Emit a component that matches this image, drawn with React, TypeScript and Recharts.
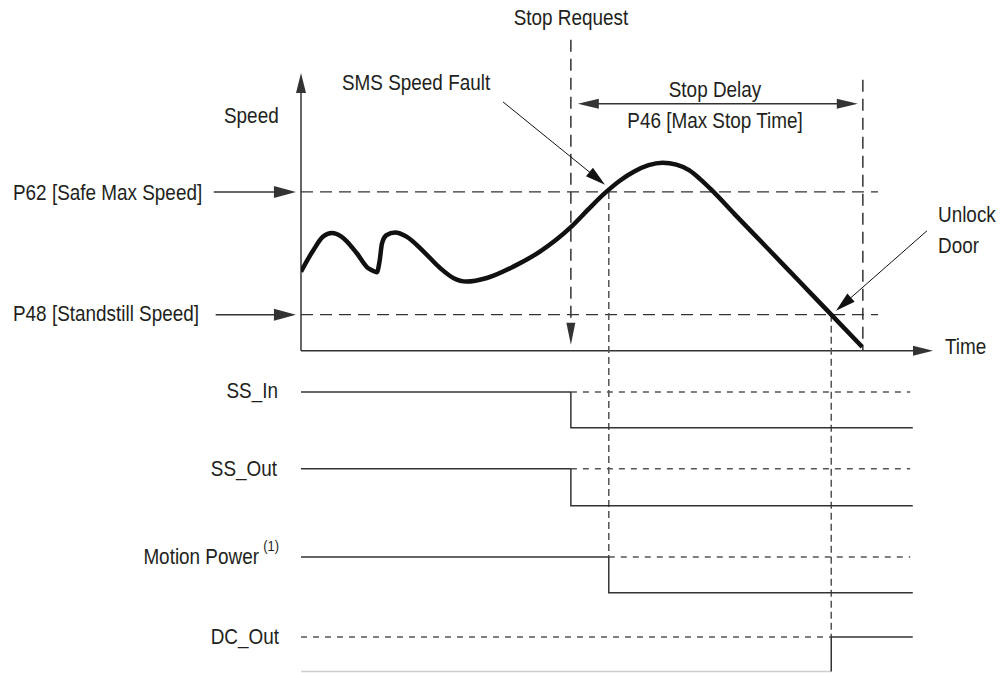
import { ComposedChart, Line, XAxis, YAxis, ReferenceLine } from "recharts";

// speed profile (time units 0..100 along the time axis, speed units 0..100 up the speed axis)
const speedTime = [
  0, 2, 3.5, 4.9, 6.4, 8.8, 10.6, 11.3, 12.0, 12.45, 12.8, 13.5, 14.9, 16.7, 19.4, 22.0, 24.1,
  26.2, 29.4, 33.6, 37.8, 42.7, 45.5, 48.2, 50.5, 52.8, 55.0, 57.2, 59.4, 61.4, 63.2, 65.0,
  68.6, 73.7, 78.8, 83.9, 88.8,
];
const speedValue = [
  28.5, 36.4, 41.1, 42.4, 41.1, 35.2, 29.8, 28.9, 28.3, 32.5, 38.5, 41.6, 42.6, 41.1, 35.7, 29.8,
  26.2, 24.9, 26.2, 30.3, 35.7, 44.5, 51.0, 57.0, 61.3, 64.6, 66.8, 67.7, 67.0, 65.0, 61.7, 57.8,
  49.2, 37.2, 25.1, 13.0, 1.4,
];

// thresholds
const safeMaxSpeed = 57.2; // P62
const standstillSpeed = 13.0; // P48

// events on the time axis
const tStopRequest = 42.7;
const tFault = 48.7;
const tUnlock = 83.9;
const tStopEnd = 88.9;
const tSignalEnd = 96.8;

// digital signals
const signalNames = ["SS_In", "SS_Out", "Motion Power", "DC_Out"];
const signalStart = [1, 1, 1, 0];
const signalSwitch = [tStopRequest, tStopRequest, tFault, tUnlock];
const signalEndState = [0, 0, 0, 1];

// lane layout (in the chart's vertical units)
const laneHigh = [-14.8, -42.5, -74.2, -103.0];
const laneLow = [-27.7, -55.8, -87.1, -115.5];

const W = 1006;
const H = 673;
const INK = "#231f20";
const LINE = "#333";

type ArrowOpts = {
  color?: string;
  width?: number;
  dash?: string;
  head?: "end" | "start" | "both" | "none";
  len?: number;
  half?: number;
};

const arrow = (o: ArrowOpts) => (p: any) => {
  const { x1, y1, x2, y2 } = p;
  const color = o.color ?? LINE;
  const len = o.len ?? 20;
  const half = o.half ?? 5;
  const head = o.head ?? "end";
  const dx = x2 - x1;
  const dy = y2 - y1;
  const d = Math.hypot(dx, dy) || 1;
  const ux = dx / d;
  const uy = dy / d;
  const atEnd = head === "end" || head === "both";
  const atStart = head === "start" || head === "both";
  const tri = (tx: number, ty: number, sx: number, sy: number) => {
    const bx = tx - sx * len;
    const by = ty - sy * len;
    return `${tx},${ty} ${bx - sy * half},${by + sx * half} ${bx + sy * half},${by - sx * half}`;
  };
  const ax = atStart ? x1 + ux * len * 0.8 : x1;
  const ay = atStart ? y1 + uy * len * 0.8 : y1;
  const bx = atEnd ? x2 - ux * len * 0.8 : x2;
  const by = atEnd ? y2 - uy * len * 0.8 : y2;
  return (
    <g>
      <line x1={ax} y1={ay} x2={bx} y2={by} stroke={color} strokeWidth={o.width ?? 1.5} strokeDasharray={o.dash} />
      {atEnd && <polygon points={tri(x2, y2, ux, uy)} fill={color} />}
      {atStart && <polygon points={tri(x1, y1, -ux, -uy)} fill={color} />}
    </g>
  );
};

const speedData = speedTime.map((t, i) => ({ t, v: speedValue[i] }));

// condensed caption text: Liberation Sans squeezed horizontally
function Cap({ x, y, anchor = "start", children }: { x: number; y: number; anchor?: "start" | "middle" | "end"; children: any }) {
  return (
    <text
      transform={`translate(${x} ${y}) scale(0.86 1)`}
      textAnchor={anchor}
      fontFamily="'Liberation Sans', Arial, sans-serif"
      fontSize={22}
      fill={INK}
    >
      {children}
    </text>
  );
}

export default function App() {
  const seg = (key: string, a: [number, number], b: [number, number], opts: ArrowOpts) => (
    <ReferenceLine
      key={key}
      segment={[
        { x: a[0], y: a[1] },
        { x: b[0], y: b[1] },
      ]}
      ifOverflow="visible"
      stroke={opts.color ?? LINE}
      shape={arrow(opts)}
    />
  );

  const signalLines = signalNames.flatMap((name, i) => {
    const lvl = (s: number) => (s ? laneHigh[i] : laneLow[i]);
    const s0 = signalStart[i];
    const s1 = signalEndState[i];
    const sw = signalSwitch[i];
    const before = [
      { t: 0, v: lvl(s0) },
      { t: sw, v: lvl(s0) },
    ];
    const after = [
      { t: sw, v: lvl(s0) },
      { t: sw, v: lvl(s1) },
      { t: tSignalEnd, v: lvl(s1) },
    ];
    const ghost =
      s0 === 1
        ? [
            { t: sw, v: laneHigh[i] },
            { t: tSignalEnd - 0.4, v: laneHigh[i] },
          ]
        : [
            { t: 0, v: laneHigh[i] },
            { t: sw, v: laneHigh[i] },
          ];
    return [
      <Line
        key={name + "-ghost"}
        data={ghost}
        dataKey="v"
        type="linear"
        stroke="#555"
        strokeWidth={1.5}
        strokeDasharray="6 6"
        dot={false}
        isAnimationActive={false}
      />,
      <Line
        key={name + "-before"}
        data={before}
        dataKey="v"
        type="linear"
        stroke={s0 === 0 ? "#cfcfcf" : LINE}
        strokeWidth={1.5}
        dot={false}
        isAnimationActive={false}
      />,
      <Line
        key={name + "-after"}
        data={after}
        dataKey="v"
        type="linear"
        stroke={LINE}
        strokeWidth={1.5}
        dot={false}
        isAnimationActive={false}
      />,
    ];
  });

  return (
    <div style={{ position: "absolute", left: 0, top: 0, width: W, height: H, background: "#fff" }}>
      <ComposedChart width={W} height={H} margin={{ top: 73, right: 73, bottom: 0, left: 301 }}>
        <XAxis type="number" dataKey="t" domain={[0, 100]} hide allowDataOverflow />
        <YAxis type="number" domain={[-116, 100]} hide allowDataOverflow />

        {/* threshold lines */}
        {seg("p62", [0, safeMaxSpeed], [91.3, safeMaxSpeed], { head: "none", dash: "12 7", width: 1.3 })}
        {seg("p48", [0, standstillSpeed], [91.3, standstillSpeed], { head: "none", dash: "12 7", width: 1.3 })}

        {/* axes */}
        {seg("yaxis", [0, 0], [0, 100], { head: "end", len: 20, half: 5 })}
        {seg("xaxis", [0, 0], [100, 0], { head: "end", len: 20, half: 5 })}

        {/* pointer arrows from the threshold labels */}
        {seg("p62arrow", [-13.8, safeMaxSpeed], [-0.8, safeMaxSpeed], { len: 22, half: 6 })}
        {seg("p48arrow", [-13.5, standstillSpeed], [-0.8, standstillSpeed], { len: 22, half: 6 })}

        {/* stop request and stop delay markers */}
        {seg("stopreq", [tStopRequest, 112], [tStopRequest, 2.2], { dash: "12 7", len: 22, half: 4.5 })}
        {seg("stopend", [tStopEnd, 97.6], [tStopEnd, 0], { head: "none", dash: "12 7" })}
        {seg("delay", [tStopRequest + 1.1, 88.9], [tStopEnd - 0.8, 88.9], { head: "both", len: 21, half: 5 })}

        {/* SMS speed fault and unlock door */}
        {seg("fault", [31.96, 89.6], [48.1, 59.8], { width: 1, len: 20, half: 5.5, color: "#111" })}
        {seg("unlock", [99.05, 43.2], [84.65, 14.4], { width: 1, len: 20, half: 5.5, color: "#111" })}
        {seg("faultline", [tFault, safeMaxSpeed], [tFault, laneHigh[2]], { head: "none", dash: "7 4", color: "#555" })}
        {seg("unlockline", [tUnlock, standstillSpeed], [tUnlock, laneHigh[3]], { head: "none", dash: "7 4", color: "#555" })}

        {signalLines}

        <Line
          data={speedData}
          dataKey="v"
          type="monotone"
          stroke="#111"
          strokeWidth={4.5}
          dot={false}
          isAnimationActive={false}
        />
      </ComposedChart>

      <svg width={W} height={H} style={{ position: "absolute", left: 0, top: 0, pointerEvents: "none" }}>
        <Cap x={571} y={25} anchor="middle">Stop Request</Cap>
        <Cap x={224} y={123}>Speed</Cap>
        <Cap x={342} y={90}>SMS Speed Fault</Cap>
        <Cap x={715} y={97} anchor="middle">Stop Delay</Cap>
        <Cap x={715} y={128} anchor="middle">P46 [Max Stop Time]</Cap>
        <Cap x={938} y={222}>Unlock</Cap>
        <Cap x={938} y={253}>Door</Cap>
        <Cap x={945} y={354}>Time</Cap>
        <Cap x={13} y={200}>P62 [Safe Max Speed]</Cap>
        <Cap x={13} y={321}>P48 [Standstill Speed]</Cap>
        <Cap x={278} y={398} anchor="end">{signalNames[0]}</Cap>
        <Cap x={277} y={476} anchor="end">{signalNames[1]}</Cap>
        <Cap x={279} y={564} anchor="end">
          {signalNames[2]}
          <tspan dx={5} dy={-13} fontSize={15}>(1)</tspan>
        </Cap>
        <Cap x={279} y={644} anchor="end">{signalNames[3]}</Cap>
      </svg>
    </div>
  );
}
